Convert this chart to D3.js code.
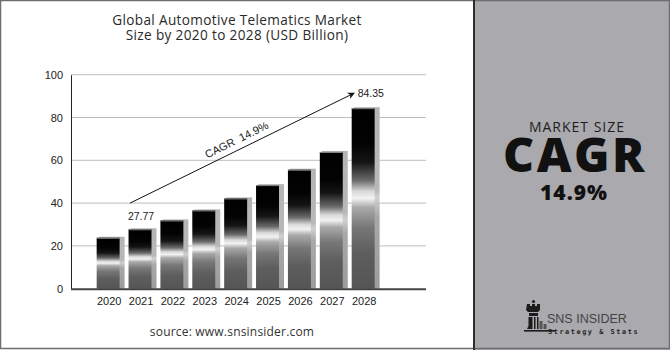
<!DOCTYPE html>
<html>
<head>
<meta charset="utf-8">
<script src="https://cdn.jsdelivr.net/npm/d3@7"></script>
<style>
  html, body { margin: 0; padding: 0; background: #fff; }
  svg { display: block; }
</style>
</head>
<body>
<svg id="chart" width="670" height="350"></svg>
<script>
// Market size by year (USD Billion)
const years = ["2020", "2021", "2022", "2023", "2024", "2025", "2026", "2027", "2028"];
const values = [23.8, 27.77, 31.9, 36.6, 42.2, 48.4, 55.6, 63.9, 84.35];
const yTicks = [0, 20, 40, 60, 80, 100];
const labelledYears = ["2021", "2028"];
const cagrText = "CAGR  14.9%";
const titleLines = ["Global Automotive Telematics Market", "Size by 2020 to 2028 (USD Billion)"];

const svg = d3.select("#chart");
const W = 670, H = 350;
const sans = "'Open Sans', 'Liberation Sans', sans-serif";
const axisFont = "'Liberation Sans', Arial, sans-serif";

// Scales
const x = d3.scaleBand().domain(years).range([92.2, 379.1]).paddingInner(0.28).paddingOuter(0.14);
const y = d3.scaleLinear().domain([0, 100]).range([288.7, 74.7]);
const bw = x.bandwidth();

// Gradients for the metallic bars
const defs = svg.append("defs");
const g1 = defs.append("linearGradient").attr("id", "barFace").attr("x1", 0).attr("y1", 0).attr("x2", 0).attr("y2", 1);
[[0, "#000"], [0.2, "#030303"], [0.3, "#151515"], [0.4, "#6a6a6a"], [0.46, "#d8d8d8"], [0.5, "#f2f2f2"],
 [0.55, "#a9a9a9"], [0.66, "#777"], [0.8, "#5e5e5e"], [1, "#555"]]
  .forEach(([o, c]) => g1.append("stop").attr("offset", o).attr("stop-color", c));
const g2 = defs.append("linearGradient").attr("id", "barSide").attr("x1", 0).attr("y1", 0).attr("x2", 0).attr("y2", 1);
[[0, "#b4b4b4"], [0.45, "#b8b8b8"], [0.5, "#d0d0d0"], [0.6, "#a8a8a8"], [1, "#9c9c9c"]]
  .forEach(([o, c]) => g2.append("stop").attr("offset", o).attr("stop-color", c));
defs.append("marker").attr("id", "arrowHead").attr("viewBox", "0 0 10 10")
  .attr("refX", 9).attr("refY", 5).attr("markerWidth", 9).attr("markerHeight", 7)
  .attr("markerUnits", "userSpaceOnUse").attr("orient", "auto")
  .append("path").attr("d", "M0,0 L10,5 L0,10 L3,5 Z").attr("fill", "#111");

// Page background and right info panel
svg.append("rect").attr("x", 0).attr("y", 0).attr("width", W).attr("height", H).attr("fill", "#fff");
svg.append("rect").attr("x", 474).attr("y", 0).attr("width", W - 474).attr("height", H).attr("fill", "#a9a9ae");

// Title
svg.append("g").selectAll("text").data(titleLines).join("text")
  .attr("x", 237).attr("y", (d, i) => 24.5 + i * 15)
  .attr("text-anchor", "middle").attr("font-family", sans).attr("font-size", 13.6)
  .attr("letter-spacing", 0.35).attr("fill", "#2a2a2a").text(d => d);

// Gridlines
svg.append("g").selectAll("line").data(yTicks.filter(d => d > 0)).join("line")
  .attr("x1", 71).attr("x2", 426).attr("y1", d => y(d)).attr("y2", d => y(d))
  .attr("stroke", "#bdbdbd").attr("stroke-width", 1);

// Y axis
const yAxis = svg.append("g").attr("transform", "translate(71,0)")
  .call(d3.axisLeft(y).tickValues(yTicks).tickSize(0).tickPadding(8));
yAxis.select(".domain").attr("stroke", "#222").attr("stroke-width", 1);
yAxis.selectAll("text").attr("font-family", axisFont).attr("font-size", 11).attr("fill", "#222");

// Bars: side shading then front face
const bars = svg.append("g");
bars.selectAll("rect.side").data(years).join("rect").attr("class", "side")
  .attr("x", d => x(d) + 2).attr("width", bw + 3)
  .attr("y", (d, i) => y(values[i]) - 1).attr("height", (d, i) => y(0) - y(values[i]) + 1)
  .attr("fill", "url(#barSide)");
bars.selectAll("rect.face").data(years).join("rect").attr("class", "face")
  .attr("x", d => x(d)).attr("width", bw)
  .attr("y", (d, i) => y(values[i])).attr("height", (d, i) => y(0) - y(values[i]))
  .attr("fill", "url(#barFace)");
bars.selectAll("line.topEdge").data(years).join("line").attr("class", "topEdge")
  .attr("x1", d => x(d)).attr("x2", d => x(d) + bw)
  .attr("y1", (d, i) => y(values[i]) + 0.5).attr("y2", (d, i) => y(values[i]) + 0.5)
  .attr("stroke", "#8a8a8a").attr("stroke-width", 1);

// X axis
const xAxis = svg.append("g").attr("transform", `translate(0,${y(0)})`)
  .call(d3.axisBottom(x).tickSize(0).tickPadding(9));
xAxis.select(".domain").remove();
xAxis.selectAll("text").attr("font-family", axisFont).attr("font-size", 11).attr("fill", "#222")
  .attr("dx", 1);
svg.append("line").attr("x1", 71).attr("x2", 426).attr("y1", y(0) + 0.5).attr("y2", y(0) + 0.5)
  .attr("stroke", "#444").attr("stroke-width", 2);

// Value labels
svg.append("g").selectAll("text").data(labelledYears).join("text")
  .attr("x", d => d === "2028" ? x(d) + 6 : x(d) + bw / 2 + 1)
  .attr("y", d => d === "2028" ? 96.5 : y(values[years.indexOf(d)]) - 9)
  .attr("text-anchor", d => d === "2028" ? "start" : "middle")
  .attr("font-family", axisFont).attr("font-size", 10.5).attr("fill", "#222")
  .text(d => values[years.indexOf(d)].toFixed(2));

// CAGR arrow
const ax0 = x("2021") + 1.5, ay0 = y(40), ax1 = x("2028") + 2.5, ay1 = y(91.4);
svg.append("line").attr("x1", ax0).attr("y1", ay0).attr("x2", ax1).attr("y2", ay1)
  .attr("stroke", "#111").attr("stroke-width", 1).attr("marker-end", "url(#arrowHead)");
const ang = Math.atan2(ay1 - ay0, ax1 - ax0) * 180 / Math.PI;
const mx = 241, my = ay0 + (mx - ax0) * (ay1 - ay0) / (ax1 - ax0);
svg.append("text").attr("transform", `translate(${mx},${my}) rotate(${ang})`)
  .attr("y", -6).attr("text-anchor", "middle").attr("font-family", axisFont)
  .attr("font-size", 11).attr("fill", "#222").attr("xml:space", "preserve").text(cagrText);

// Source
svg.append("text").attr("x", 232).attr("y", 336).attr("text-anchor", "middle")
  .attr("font-family", sans).attr("font-size", 12).attr("letter-spacing", 0.2).attr("fill", "#333")
  .text("source: www.snsinsider.com");

// Right panel text
svg.append("text").attr("x", 577).attr("y", 131.5).attr("text-anchor", "middle")
  .attr("font-family", sans).attr("font-size", 14).attr("letter-spacing", 1).attr("fill", "#1e1e1e").text("MARKET SIZE");
svg.append("text").attr("x", 575).attr("y", 172).attr("text-anchor", "middle")
  .attr("font-family", sans).attr("font-weight", 800).attr("font-size", 48).attr("letter-spacing", 2.5)
  .attr("fill", "#111").text("CAGR");
svg.append("text").attr("x", 574).attr("y", 199.5).attr("text-anchor", "middle")
  .attr("font-family", sans).attr("font-weight", 800).attr("font-size", 21).attr("letter-spacing", 1)
  .attr("fill", "#111").text("14.9%");

// Logo: rook emblem with wordmark
const logo = svg.append("g").attr("fill", "#1c1c1c");
logo.append("circle").attr("cx", 533.5).attr("cy", 301.5).attr("r", 1.6);
logo.append("path").attr("d",
  "M527,304 h3 v2 h2 v-2 h3 v2 h2 v-2 h3 v6 l-2,2 h-10 l-2,-2 Z");
logo.append("path").attr("d", "M529,313 h9 v3 h-9 Z");
logo.append("path").attr("d", "M528.5,317 h4 v12 h-5.5 l1.5,-3 Z");
logo.append("path").attr("d", "M534,317 h1.5 v12 h-1.5 Z M537,317 h1.5 v12 h-1.5 Z");
logo.append("path").attr("d", "M539.5,321 h3 v8 h-3 Z M543.5,324 h3 v5 h-3 Z").attr("fill", "#555");
logo.append("rect").attr("x", 524).attr("y", 330).attr("width", 31).attr("height", 1.6);
svg.append("text").attr("x", 547).attr("y", 323.3).attr("font-family", "'Liberation Sans Narrow', 'Liberation Sans', sans-serif")
  .attr("font-size", 12.5).attr("fill", "#444").text("SNS INSIDER");
svg.append("text").attr("x", 548).attr("y", 333.5).attr("font-family", "'DejaVu Sans Mono', monospace")
  .attr("font-weight", "bold").attr("font-size", 6.8).attr("letter-spacing", 1.6).attr("fill", "#222")
  .text("Strategy & Stats");

// Frame and divider
svg.append("rect").attr("x", 0.5).attr("y", 0.5).attr("width", W - 1).attr("height", H - 2)
  .attr("fill", "none").attr("stroke", "#6e6e6e").attr("stroke-width", 1.5);
svg.append("line").attr("x1", 474).attr("x2", 474).attr("y1", 0).attr("y2", H)
  .attr("stroke", "#2e2e2e").attr("stroke-width", 2);
</script>
</body>
</html>
